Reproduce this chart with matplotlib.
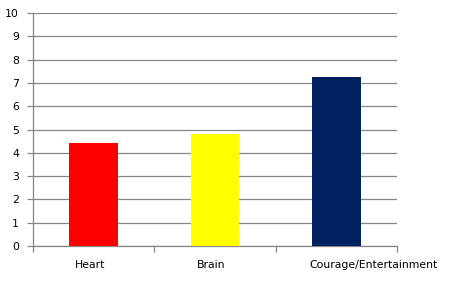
import matplotlib
matplotlib.use("Agg")
import matplotlib.pyplot as plt
from matplotlib.transforms import ScaledTranslation

categories = ["Heart", "Brain", "Courage/Entertainment"]
values = [4.42, 4.8, 7.27]
colors = ["#FF0000", "#FFFF00", "#002060"]
yticks = list(range(0, 11))

fig = plt.figure(figsize=(4.5, 2.91), dpi=100)
ax = fig.add_axes([33/450, (291-246)/291, (397-33)/450, (246-13)/291])
x = list(range(len(categories)))
ax.bar(x, values, width=0.4, color=colors, zorder=3)
ax.set_xlim(-0.5, len(categories) - 0.5)
ax.set_ylim(0, 10)
ax.set_yticks(yticks)
ax.set_yticklabels([str(t) for t in yticks], fontsize=7.8)
ax.yaxis.grid(True, color="#868686", linewidth=0.9, zorder=0)
ax.set_xticks([-0.5, 0.5, 1.5, 2.5])
ax.set_xticklabels([])
ax.set_xticks(x, minor=True)
ax.set_xticklabels(categories, minor=True, fontsize=7.8)
ax.tick_params(axis="x", which="minor", length=0, pad=10)
ax.tick_params(axis="x", which="major", length=4, color="#868686", width=0.9)
ax.tick_params(axis="y", length=4, color="#868686", width=0.9, pad=6)
labels = ax.get_xticklabels(minor=True)
shifts = [-4, -4, 37]
for lab, dx in zip(labels, shifts):
    lab.set_transform(lab.get_transform() + ScaledTranslation(dx/100, 0, fig.dpi_scale_trans))
for s in ["top", "right"]:
    ax.spines[s].set_visible(False)
for s in ["left", "bottom"]:
    ax.spines[s].set_color("#868686")
    ax.spines[s].set_linewidth(0.9)
fig.savefig("out.png", dpi=100)
